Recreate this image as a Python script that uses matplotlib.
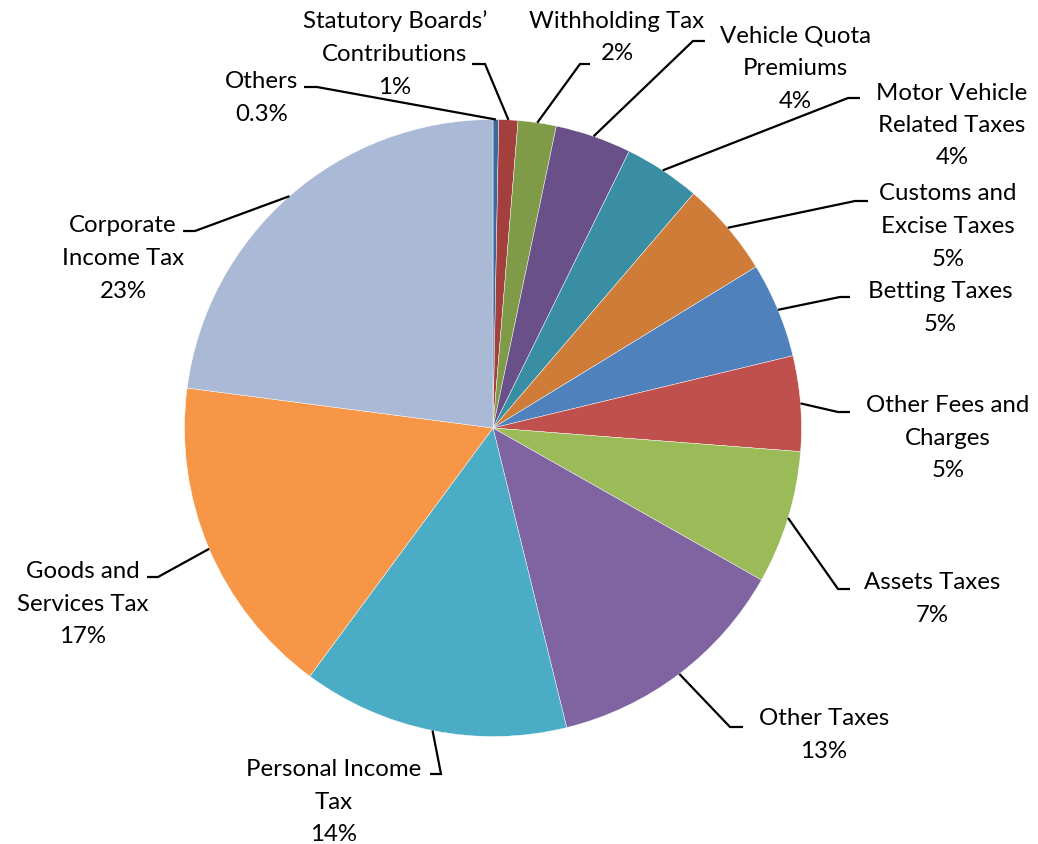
import matplotlib
matplotlib.use("Agg")
import matplotlib.pyplot as plt
import numpy as np

# Revenue sources, in drawing order (clockwise from 12 o'clock)
categories = [
    "Others",
    "Statutory Boards’\nContributions",
    "Withholding Tax",
    "Vehicle Quota\nPremiums",
    "Motor Vehicle\nRelated Taxes",
    "Customs and\nExcise Taxes",
    "Betting Taxes",
    "Other Fees and\nCharges",
    "Assets Taxes",
    "Other Taxes",
    "Personal Income\nTax",
    "Goods and\nServices Tax",
    "Corporate\nIncome Tax",
]
shares = [0.3, 1, 2, 4, 4, 5, 5, 5, 7, 13, 14, 17, 23]

colors = [
    "#3C68A0", "#A3403D", "#7F9B48", "#6A5089", "#3A8EA4", "#CE7C38",
    "#4F81BD", "#C0504D", "#9BBB59", "#8064A2", "#4BACC6", "#F79646",
    "#AAB9D6",
]

W, H = 1038, 845
fig = plt.figure(figsize=(W / 100, H / 100), dpi=100)
ax = fig.add_axes([0, 0, 1, 1])

# pie geometry in pixel units (y measured from the bottom)
cx, cy, R = 493, H - 429, 308.5
wedges, _ = ax.pie(
    shares, colors=colors, startangle=90, counterclock=False,
    center=(cx, cy), radius=R,
    wedgeprops=dict(edgecolor="white", linewidth=0.3),
)
ax.set_xlim(0, W)
ax.set_ylim(0, H)
ax.set_aspect("equal")
ax.axis("off")

# label placement: text centre x, first-line y, leader joint x, stub tip x, stub y
# (screen pixels, measured from the top)
label_pos = [
    (262, 81, 317, 304, 88),
    (395, 21, 485, 472, 65),
    (617, 20, 580, 590, 65),
    (795, 35, 693, 705, 42),
    (952, 92, 848, 860, 99),
    (948, 193, 855, 868, 202),
    (940, 291, 840, 850, 298),
    (948, 405, 838, 850, 413),
    (932, 582, 838, 850, 590),
    (824, 718, 730, 743, 728),
    (334, 769, 441, 430, 775),
    (83, 571, 158, 147, 578),
    (123, 225, 195, 183, 232),
]

font = dict(family=["Lato", "DejaVu Sans"], size=17.3, color="black")
line_step = 32.5

for wedge, name, val, (tx, ty, jx, sx, sy) in zip(wedges, categories, shares, label_pos):
    mid = np.deg2rad((wedge.theta1 + wedge.theta2) / 2)
    ex, ey = cx + R * np.cos(mid), cy + R * np.sin(mid)
    ax.plot([ex, jx, sx], [ey, H - sy, H - sy], color="black", lw=1.6,
            solid_capstyle="butt", solid_joinstyle="miter", zorder=3)
    lines = name.split("\n") + [f"{val:g}%"]
    for i, line in enumerate(lines):
        ax.text(tx, H - (ty + i * line_step + 7.5), line, ha="center",
                va="baseline", **font)

fig.savefig("out.png", dpi=100, facecolor="white")
